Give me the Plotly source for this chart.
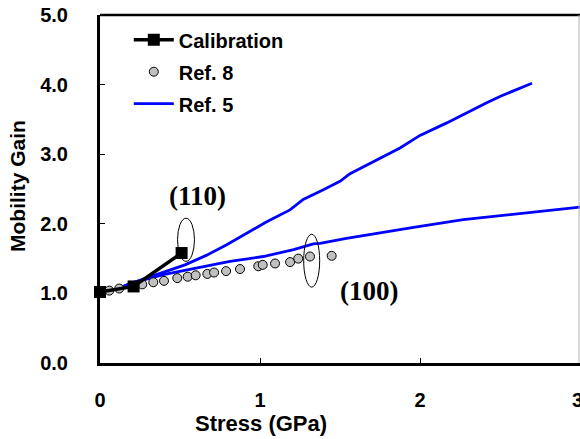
import plotly.graph_objects as go

# Calibration (squares)
cal_x = [0.0, 0.21, 0.51]
cal_y = [1.02, 1.10, 1.58]

# Ref. 8 (grey circles)
ref8_x = [0.058, 0.12, 0.264, 0.333, 0.40, 0.483, 0.548, 0.598, 0.671, 0.713,
          0.788, 0.875, 0.989, 1.017, 1.094, 1.188, 1.239, 1.3125, 1.448]
ref8_y = [1.04, 1.07, 1.13, 1.16, 1.18, 1.22, 1.24, 1.26, 1.28, 1.30,
          1.32, 1.35, 1.39, 1.41, 1.43, 1.45, 1.50, 1.53, 1.54]

# Ref. 5 (110) curve
ref5a_x = [0.10, 0.198, 0.531, 0.667, 0.792, 0.917, 1.042, 1.1875, 1.27, 1.396,
           1.5, 1.5625, 1.875, 2.0, 2.167, 2.417, 2.5, 2.70]
ref5a_y = [1.06, 1.147, 1.41, 1.55, 1.70, 1.87, 2.03, 2.20, 2.35, 2.49,
           2.61, 2.72, 3.09, 3.27, 3.45, 3.74, 3.83, 4.02]

# Ref. 5 (100) curve
ref5b_x = [0.10, 0.198, 0.396, 0.604, 0.8125, 1.02, 1.21, 1.333, 1.375, 1.54,
           1.75, 1.96, 2.27, 2.58, 3.0]
ref5b_y = [1.06, 1.147, 1.27, 1.36, 1.46, 1.53, 1.63, 1.71, 1.72, 1.79,
           1.875, 1.95, 2.06, 2.14, 2.24]

x_ticks = [0, 1, 2, 3]
y_ticks = [0, 1, 2, 3, 4, 5]
y_ticklabels = ["0.0", "1.0", "2.0", "3.0", "4.0", "5.0"]

# ellipse annotations: (center x, center y, half-width, half-height)
ell_110 = (0.5375, 1.77, 0.053, 0.31)
ell_100 = (1.323, 1.47, 0.05, 0.38)
lab_110 = ("(110)", 0.61, 2.4)
lab_100 = ("(100)", 1.68, 1.04)

FONT = "Liberation Sans, Arial, sans-serif"
W, H = 580, 439
ml, mr, mt, mb = 100, 0, 15, 76
pw, ph = W - ml - mr, H - mt - mb

fig = go.Figure()
fig.add_trace(go.Scatter(x=ref5a_x, y=ref5a_y, mode="lines", name="<b>Ref. 5</b>",
                         line=dict(color="#0000ff", width=2.8),
                         legendgroup="r5", legendrank=3))
fig.add_trace(go.Scatter(x=ref5b_x, y=ref5b_y, mode="lines", name="<b>Ref. 5</b>",
                         line=dict(color="#0000ff", width=2.8),
                         legendgroup="r5", showlegend=False))
fig.add_trace(go.Scatter(x=ref8_x, y=ref8_y, mode="markers", name="<b>Ref. 8</b>",
                         marker=dict(symbol="circle", size=9, color="#c0c0c0",
                                     line=dict(color="black", width=1)),
                         legendgroup="r8", legendrank=2))
fig.add_trace(go.Scatter(x=cal_x, y=cal_y, mode="lines+markers", name="<b>Calibration</b>",
                         line=dict(color="black", width=3.5),
                         marker=dict(symbol="square", size=12, color="black"),
                         legendgroup="cal", legendrank=1, cliponaxis=False))

shapes = []
for cx, cy, hw, hh in [ell_110, ell_100]:
    shapes.append(dict(type="circle", xref="x", yref="y",
                       x0=cx - hw, x1=cx + hw, y0=cy - hh, y1=cy + hh,
                       line=dict(color="black", width=1)))
shapes.append(dict(type="line", xref="paper", yref="paper", x0=0, x1=1, y0=1, y1=1,
                   line=dict(color="black", width=2.5)))
shapes.append(dict(type="line", xref="paper", yref="paper", x0=0.998, x1=0.998, y0=0, y1=1,
                   line=dict(color="#b0b0b0", width=1)))

annotations = []
for txt, ax_, ay_ in [lab_110, lab_100]:
    annotations.append(dict(text="<b>" + txt + "</b>", x=ax_, y=ay_, xref="x", yref="y",
                            showarrow=False,
                            font=dict(family="Liberation Serif, Times New Roman, serif",
                                      size=27, color="black")))


def px_ann(text, px, py, size, angle=0):
    return dict(text=text, xref="paper", yref="paper",
                x=(px - ml) / pw, y=(H - py - mb) / ph,
                xanchor="center", yanchor="middle", showarrow=False, textangle=angle,
                font=dict(family=FONT, size=size, color="black"))


annotations.append(px_ann("<b>Stress (GPa)</b>", 261, 423, 22))
annotations.append(px_ann("<b>Mobility Gain</b>", 17, 186, 21, -90))
# the "3" tick label sits on the right edge and is cut off in the original
annotations.append(dict(text="<b>3</b>", x=3, y=0, xref="x", yref="y", xanchor="center",
                        yanchor="top", yshift=-24, xshift=-3, showarrow=False,
                        font=dict(family=FONT, size=20, color="black")))

fig.update_layout(
    width=W, height=H,
    margin=dict(l=ml, r=mr, t=mt, b=mb, pad=0),
    paper_bgcolor="white", plot_bgcolor="white",
    font=dict(family=FONT, size=20, color="black"),
    shapes=shapes, annotations=annotations,
    legend=dict(x=0.06, y=0.985, xanchor="left", yanchor="top",
                bgcolor="rgba(0,0,0,0)", font=dict(family=FONT, size=20, color="black"),
                tracegroupgap=3, itemwidth=40),
    xaxis=dict(range=[0, 3], tickvals=x_ticks, ticktext=[f"<b>{v}</b>" for v in x_ticks],
               showgrid=False, zeroline=False, showline=True, linecolor="black", linewidth=3,
               ticks="inside", ticklen=5, tickwidth=1, tickcolor="black",
               ticklabelstandoff=17, tickfont=dict(family=FONT, size=20)),
    yaxis=dict(range=[0, 5], tickvals=y_ticks, ticktext=[f"<b>{t}</b>" for t in y_ticklabels],
               showgrid=False, zeroline=False, showline=True, linecolor="black", linewidth=3,
               ticks="inside", ticklen=5, tickwidth=1, tickcolor="black",
               ticklabelstandoff=25, tickfont=dict(family=FONT, size=20)),
)
fig.write_html("out.html")
